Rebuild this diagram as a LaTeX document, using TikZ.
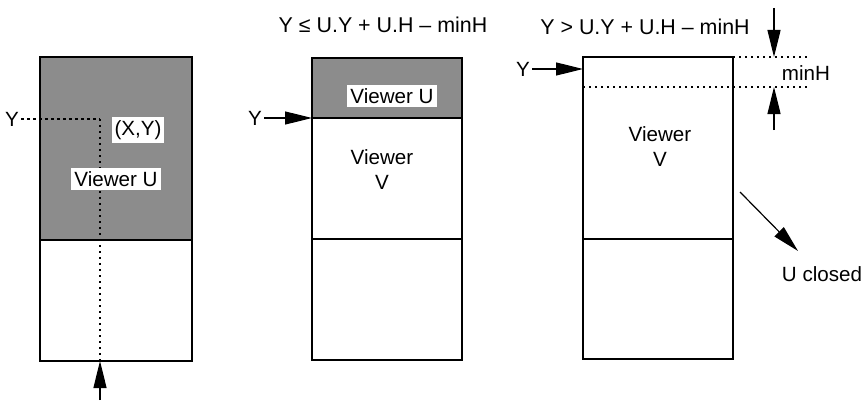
\documentclass[tikz,border=0pt]{standalone}
\usepackage{fontspec}
\setmainfont{Liberation Sans}
\usetikzlibrary{arrows.meta}
\begin{document}
\begin{tikzpicture}[x=0.5pt,y=-0.5pt,
  font=\fontsize{10.3}{12.5}\selectfont,
  frame/.style={draw=black, line width=0.65pt},
  shadefill/.style={fill=black!45},
  dots/.style={line width=0.6pt, dash pattern=on 1.2pt off 1.8pt},
  arr/.style={line width=0.6pt, -{Triangle[length=13.5pt,width=6.5pt]}},
  lbl/.style={inner sep=1pt},
  ttl/.style={inner sep=1pt, font=\fontsize{10.7}{12.5}\selectfont},
  wlbl/.style={fill=white, inner sep=1.5pt}]
\useasboundingbox (0,0) rectangle (866,401);

% ---------- panel 1 ----------
\fill[shadefill] (40,57) rectangle (192,240);
\draw[frame] (40,57) rectangle (192,361);
\draw[frame] (40,240) -- (192,240);
\node[lbl] (y1) at (12,119) {Y};
\coordinate (xy) at (100,119);
\coordinate (b1) at (100,361);
\coordinate (t1) at (100,400);
\draw[dots] (y1.east) -- (xy);
\draw[dots] (xy) -- (b1);
\node[wlbl] (xyl) at (138,130) {(X,Y)};
\node[wlbl] (vu1) at (116,179) {Viewer U};
\draw[arr] (t1) -- (b1);

% ---------- panel 2 ----------
\node[ttl] (title2) at (383,25) {Y ≤ U.Y + U.H – minH};
\fill[shadefill] (312,58) rectangle (462,118);
\draw[frame] (312,58) rectangle (462,360);
\draw[frame] (312,118) -- (462,118);
\draw[frame] (312,239) -- (462,239);
\node[wlbl] (vu2) at (392,96) {Viewer U};
\node[lbl, align=center] (vv2) at (382,170) {Viewer\\V};
\node[lbl] (y2) at (255,118) {Y};
\coordinate (e2) at (312,118);
\draw[arr] (y2.east) -- (e2);

% ---------- panel 3 ----------
\node[ttl] (title3) at (645,27) {Y > U.Y + U.H – minH};
\draw[frame] (583,57) rectangle (733,359);
\draw[frame] (583,239) -- (733,239);
\coordinate (d1a) at (583,87);
\coordinate (d1b) at (807,87);
\coordinate (d2a) at (733,57);
\coordinate (d2b) at (807,57);
\draw[dots] (d1a) -- (d1b);
\draw[dots] (d2a) -- (d2b);
\node[lbl] (minh) at (806,73) {minH};
\coordinate (ta) at (774,8);
\coordinate (tb) at (774,57);
\coordinate (ua) at (774,130);
\coordinate (ub) at (774,87);
\draw[arr] (ta) -- (tb);
\draw[arr] (ua) -- (ub);
\node[lbl] (y3) at (523,69) {Y};
\coordinate (e3) at (583,69);
\draw[arr] (y3.east) -- (e3);
\node[lbl, align=center] (vv3) at (660,147) {Viewer\\V};
\coordinate (ca) at (740,192);
\coordinate (cb) at (798,251);
\draw[arr] (ca) -- (cb);
\node[lbl] (uc) at (822,274) {U closed};
\end{tikzpicture}
\end{document}
